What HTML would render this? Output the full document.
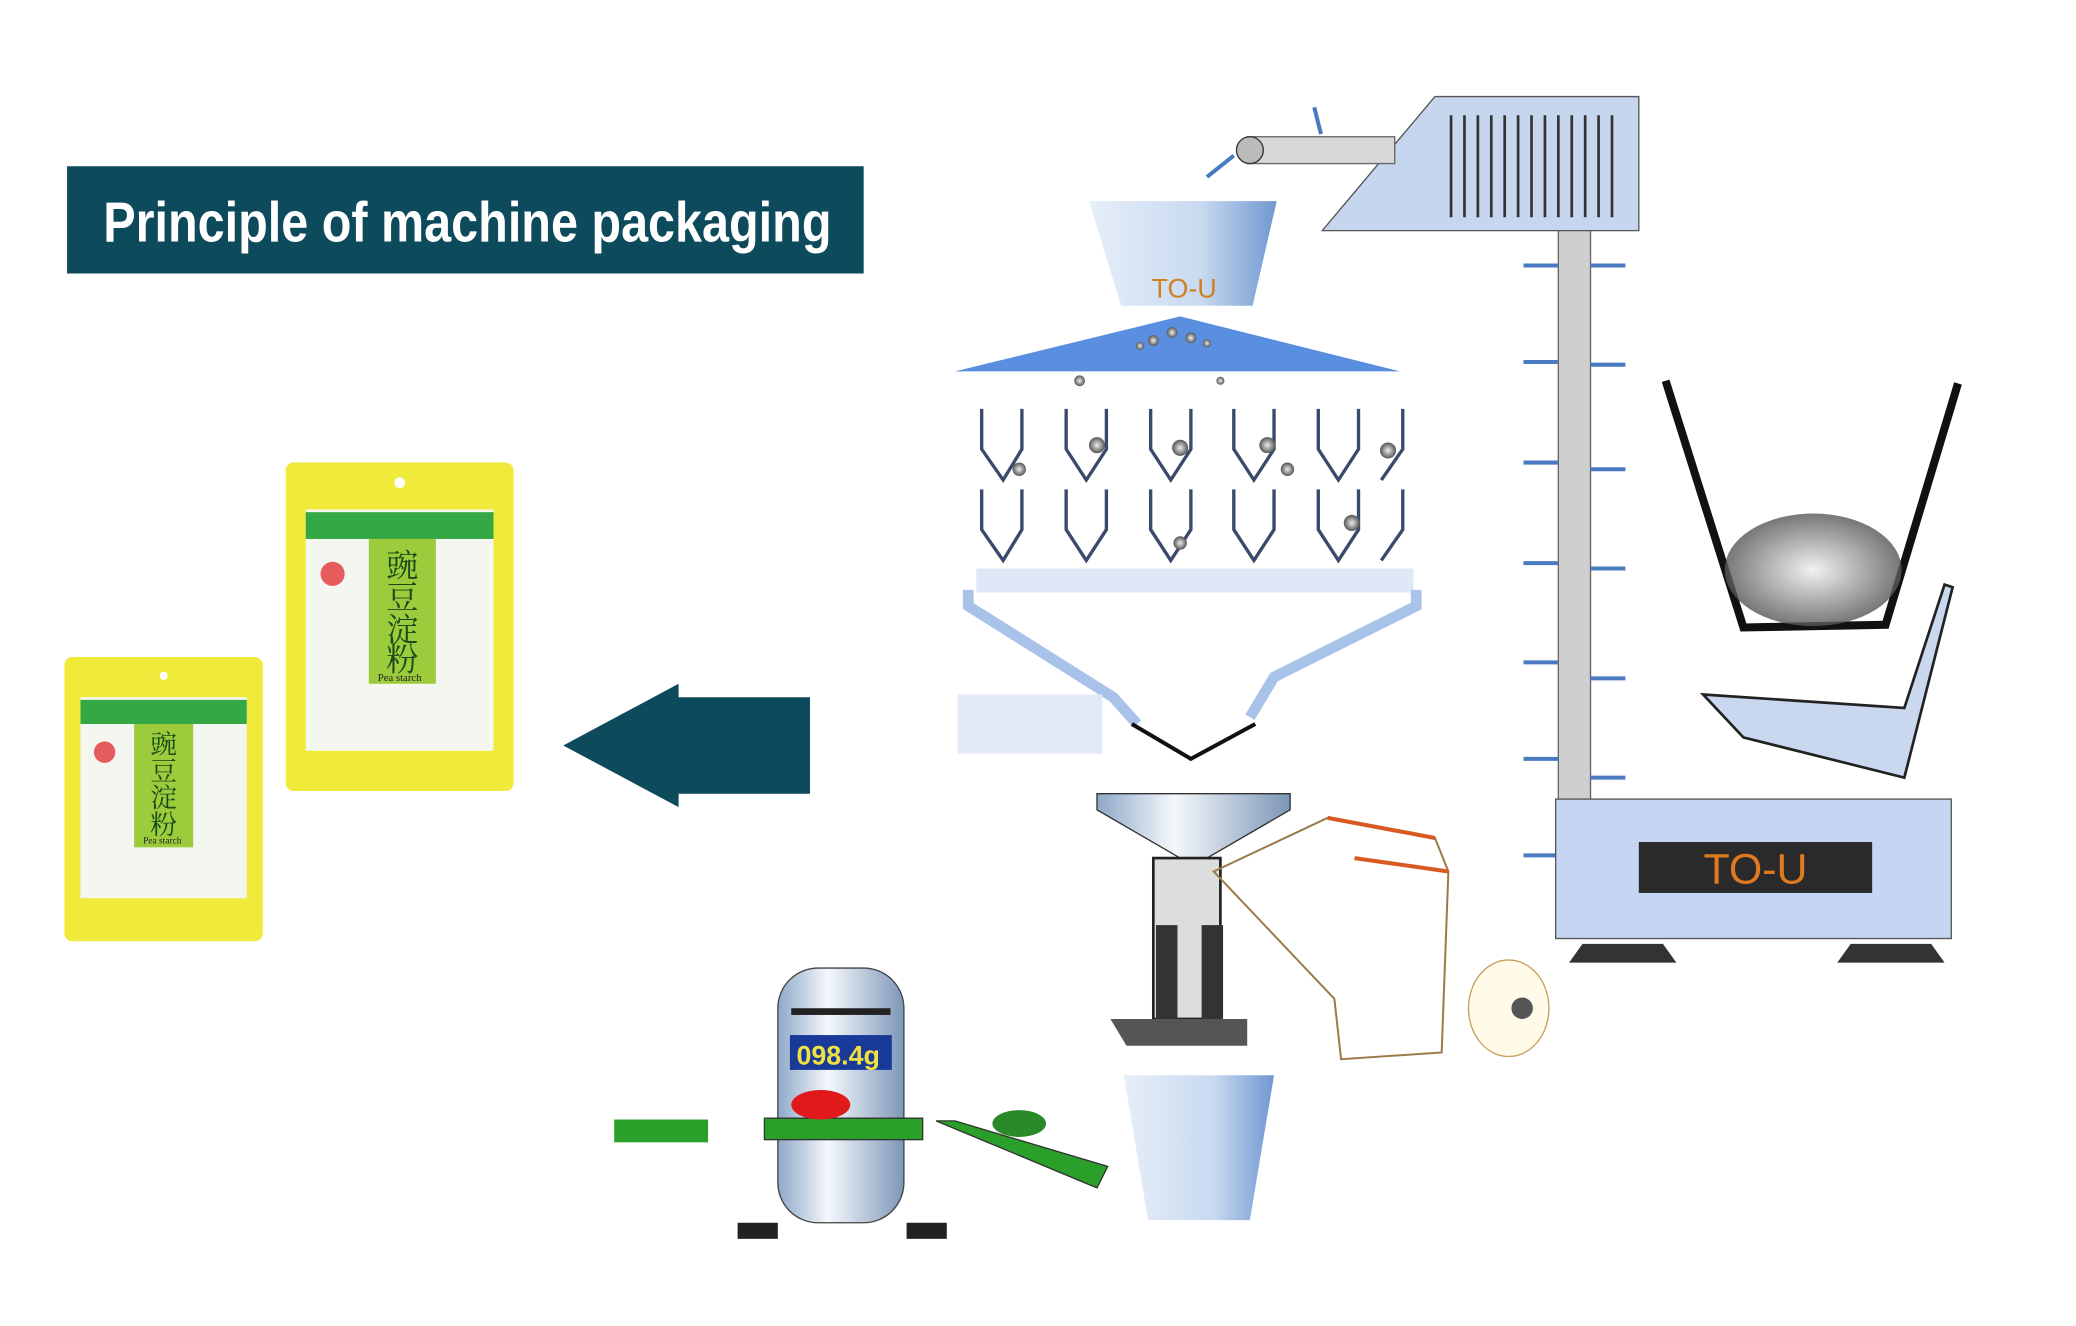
<!DOCTYPE html>
<html><head><meta charset="utf-8"><style>
html,body{margin:0;padding:0;background:#fff;}
svg{display:block}
</style></head><body>
<svg width="2076" height="1326" viewBox="0 0 1548 989" preserveAspectRatio="none" xmlns="http://www.w3.org/2000/svg">
<defs>
<linearGradient id="cone" x1="0" x2="1"><stop offset="0" stop-color="#e6eef9"/><stop offset="0.6" stop-color="#c8d9f0"/><stop offset="1" stop-color="#6f98d0"/></linearGradient>
<linearGradient id="cyl" x1="0" x2="1"><stop offset="0" stop-color="#8ea8c8"/><stop offset="0.4" stop-color="#f5f8fc"/><stop offset="1" stop-color="#7d97b8"/></linearGradient>
<radialGradient id="ball"><stop offset="0" stop-color="#eee"/><stop offset="1" stop-color="#555"/></radialGradient>
</defs>
<rect width="1548" height="989" fill="#fff"/>
<rect x="50" y="124" width="594" height="80" fill="#0d4a5c"/>
<text x="77" y="180" textLength="543" lengthAdjust="spacingAndGlyphs" font-family="Liberation Sans Narrow, Liberation Sans, sans-serif" font-weight="bold" font-size="42" fill="#fff">Principle of machine packaging</text>
<polygon points="420,556 506,510 506,520 604,520 604,592 506,592 506,602" fill="#0d4a5c"/>
<g>
<rect x="213" y="345" width="170" height="245" rx="6" fill="#f0ea3a"/>
<rect x="228" y="380" width="140" height="180" fill="#f4f6f0"/>
<rect x="228" y="382" width="140" height="20" fill="#34a844"/>
<rect x="275" y="402" width="50" height="108" fill="#9ccc3c"/>
<text x="300" y="430" text-anchor="middle" font-family="Noto Serif CJK SC, serif" font-size="24" fill="#1a4a1a">豌</text>
<text x="300" y="454" text-anchor="middle" font-family="Noto Serif CJK SC, serif" font-size="24" fill="#1a4a1a">豆</text>
<text x="300" y="478" text-anchor="middle" font-family="Noto Serif CJK SC, serif" font-size="24" fill="#1a4a1a">淀</text>
<text x="300" y="500" text-anchor="middle" font-family="Noto Serif CJK SC, serif" font-size="24" fill="#1a4a1a">粉</text>
<text x="298" y="508" text-anchor="middle" font-family="Liberation Serif, serif" font-size="8" fill="#222">Pea starch</text>
<circle cx="248" cy="428" r="9" fill="#e65c5c"/>
<circle cx="298" cy="360" r="4" fill="#fff"/>
</g>
<g>
<rect x="48" y="490" width="148" height="212" rx="6" fill="#f0ea3a"/>
<rect x="60" y="520" width="124" height="150" fill="#f4f6f0"/>
<rect x="60" y="522" width="124" height="18" fill="#34a844"/>
<rect x="100" y="540" width="44" height="92" fill="#9ccc3c"/>
<text x="122" y="562" text-anchor="middle" font-family="Noto Serif CJK SC, serif" font-size="20" fill="#1a4a1a">豌</text>
<text x="122" y="582" text-anchor="middle" font-family="Noto Serif CJK SC, serif" font-size="20" fill="#1a4a1a">豆</text>
<text x="122" y="602" text-anchor="middle" font-family="Noto Serif CJK SC, serif" font-size="20" fill="#1a4a1a">淀</text>
<text x="122" y="622" text-anchor="middle" font-family="Noto Serif CJK SC, serif" font-size="20" fill="#1a4a1a">粉</text>
<text x="121" y="629" text-anchor="middle" font-family="Liberation Serif, serif" font-size="7" fill="#222">Pea starch</text>
<circle cx="78" cy="561" r="8" fill="#e65c5c"/>
<circle cx="122" cy="504" r="3" fill="#fff"/>
</g>
<polygon points="812,150 952,150 934,228 836,228" fill="url(#cone)"/>
<text x="883" y="222" text-anchor="middle" font-family="Liberation Sans, sans-serif" font-size="20" fill="#d08020">TO-U</text>
<polygon points="712,277 880,236 1044,277" fill="#5a8ee0"/>
<g fill="url(#ball)">
<circle cx="860" cy="254" r="4"/><circle cx="874" cy="248" r="4"/><circle cx="888" cy="252" r="4"/><circle cx="900" cy="256" r="3"/><circle cx="850" cy="258" r="3"/><circle cx="805" cy="284" r="4"/><circle cx="910" cy="284" r="3"/>
</g>
<g stroke="#3a4a6a" stroke-width="2.5" fill="none">
<path d="M732 305 V335 L748 358 L762 335 V305 M795 305 V335 L810 358 L825 335 V305 M858 305 V335 L873 358 L888 335 V305 M920 305 V335 L935 358 L950 335 V305 M983 305 V335 L998 358 L1013 335 V305 M1046 305 V335 L1030 358"/>
<path d="M732 365 V395 L748 418 L762 395 V365 M795 365 V395 L810 418 L825 395 V365 M858 365 V395 L873 418 L888 395 V365 M920 365 V395 L935 418 L950 395 V365 M983 365 V395 L998 418 L1013 395 V365 M1046 365 V395 L1030 418"/>
</g>
<g fill="url(#ball)">
<circle cx="818" cy="332" r="6"/><circle cx="880" cy="334" r="6"/><circle cx="945" cy="332" r="6"/><circle cx="1035" cy="336" r="6"/><circle cx="1008" cy="390" r="6"/><circle cx="760" cy="350" r="5"/><circle cx="880" cy="405" r="5"/><circle cx="960" cy="350" r="5"/>
</g>
<rect x="728" y="424" width="326" height="18" fill="#dfe8f7"/>
<path d="M722 440 V452 L830 520 L848 540 M1056 440 V452 L950 505 L932 535" stroke="#a9c2ea" stroke-width="8" fill="none"/>
<path d="M844 540 L888 566 L936 540" stroke="#111" stroke-width="3" fill="none"/>
<rect x="714" y="518" width="108" height="44" fill="#e2eaf6"/>
<rect x="1162" y="170" width="24" height="430" fill="#cfcfcf" stroke="#666"/>
<g stroke="#4a7ac0" stroke-width="3">
<line x1="1136" y1="198" x2="1162" y2="198"/><line x1="1136" y1="270" x2="1162" y2="270"/><line x1="1136" y1="345" x2="1162" y2="345"/><line x1="1136" y1="420" x2="1162" y2="420"/><line x1="1136" y1="494" x2="1162" y2="494"/><line x1="1136" y1="566" x2="1162" y2="566"/><line x1="1136" y1="638" x2="1162" y2="638"/>
<line x1="1186" y1="198" x2="1212" y2="198"/><line x1="1186" y1="272" x2="1212" y2="272"/><line x1="1186" y1="350" x2="1212" y2="350"/><line x1="1186" y1="424" x2="1212" y2="424"/><line x1="1186" y1="506" x2="1212" y2="506"/><line x1="1186" y1="580" x2="1212" y2="580"/>
</g>
<polygon points="986,172 1070,72 1222,72 1222,172" fill="#c6d6ee" stroke="#555"/>
<g stroke="#333" stroke-width="2"><line x1="1082" y1="86" x2="1082" y2="162"/><line x1="1092" y1="86" x2="1092" y2="162"/><line x1="1102" y1="86" x2="1102" y2="162"/><line x1="1112" y1="86" x2="1112" y2="162"/><line x1="1122" y1="86" x2="1122" y2="162"/><line x1="1132" y1="86" x2="1132" y2="162"/><line x1="1142" y1="86" x2="1142" y2="162"/><line x1="1152" y1="86" x2="1152" y2="162"/><line x1="1162" y1="86" x2="1162" y2="162"/><line x1="1172" y1="86" x2="1172" y2="162"/><line x1="1182" y1="86" x2="1182" y2="162"/><line x1="1192" y1="86" x2="1192" y2="162"/><line x1="1202" y1="86" x2="1202" y2="162"/></g>
<rect x="930" y="102" width="110" height="20" fill="#d8d8d8" stroke="#666"/>
<circle cx="932" cy="112" r="10" fill="#bbb" stroke="#333"/>
<path d="M900 132 L920 116 M980 80 L985 100" stroke="#4a7ac0" stroke-width="3"/>
<rect x="1160" y="596" width="295" height="104" fill="#c6d6f2" stroke="#555"/>
<rect x="1222" y="628" width="174" height="38" fill="#2a2a2a"/>
<text x="1309" y="659" text-anchor="middle" font-family="Liberation Sans, sans-serif" font-size="32" fill="#e07a20">TO-U</text>
<polygon points="1180,704 1240,704 1250,718 1170,718" fill="#333"/>
<polygon points="1380,704 1440,704 1450,718 1370,718" fill="#333"/>
<path d="M1242 284 L1300 468 L1406 466 L1460 286" stroke="#111" stroke-width="6" fill="none"/>
<ellipse cx="1352" cy="425" rx="66" ry="42" fill="url(#ball)" opacity="0.8"/>
<polygon points="1270,518 1420,528 1450,436 1456,438 1420,580 1300,550" fill="#c9d8ee" stroke="#222" stroke-width="2"/>
<polygon points="818,592 962,592 962,604 900,640 880,640 818,604" fill="url(#cyl)" stroke="#333"/>
<rect x="860" y="640" width="50" height="120" fill="#ddd" stroke="#222" stroke-width="2"/>
<rect x="862" y="690" width="16" height="70" fill="#333"/><rect x="896" y="690" width="16" height="70" fill="#333"/>
<polygon points="828,760 930,760 930,780 840,780" fill="#555"/>
<path d="M905 650 L990 610 L1070 625 L1080 650 L1075 785 L1000 790 L995 745 Z" fill="none" stroke="#9c7a4a" stroke-width="1.5"/>
<path d="M990 610 L1070 625 M1010 640 L1080 650" stroke="#d85a20" stroke-width="3"/>
<ellipse cx="1125" cy="752" rx="30" ry="36" fill="#fffbe8" stroke="#c9a060"/>
<circle cx="1135" cy="752" r="8" fill="#555"/>
<polygon points="838,802 950,802 932,910 856,910" fill="url(#cone)"/>
<rect x="580" y="722" width="94" height="190" rx="30" fill="url(#cyl)" stroke="#444"/>
<rect x="589" y="772" width="76" height="26" fill="#1a3a9a"/>
<text x="625" y="794" text-anchor="middle" font-family="Liberation Sans, sans-serif" font-weight="bold" font-size="20" fill="#f0e040">098.4g</text>
<rect x="590" y="752" width="74" height="5" fill="#222"/>
<rect x="550" y="912" width="30" height="12" fill="#222"/><rect x="676" y="912" width="30" height="12" fill="#222"/>
<rect x="458" y="835" width="70" height="17" fill="#2aa02a"/>
<rect x="570" y="834" width="118" height="16" fill="#2aa02a" stroke="#333"/>
<polygon points="698,836 712,836 826,870 818,886" fill="#2aa02a" stroke="#333"/>
<ellipse cx="612" cy="824" rx="22" ry="11" fill="#e01a1a"/>
<ellipse cx="760" cy="838" rx="20" ry="10" fill="#2a8a2a"/>
</svg>
</body></html>
